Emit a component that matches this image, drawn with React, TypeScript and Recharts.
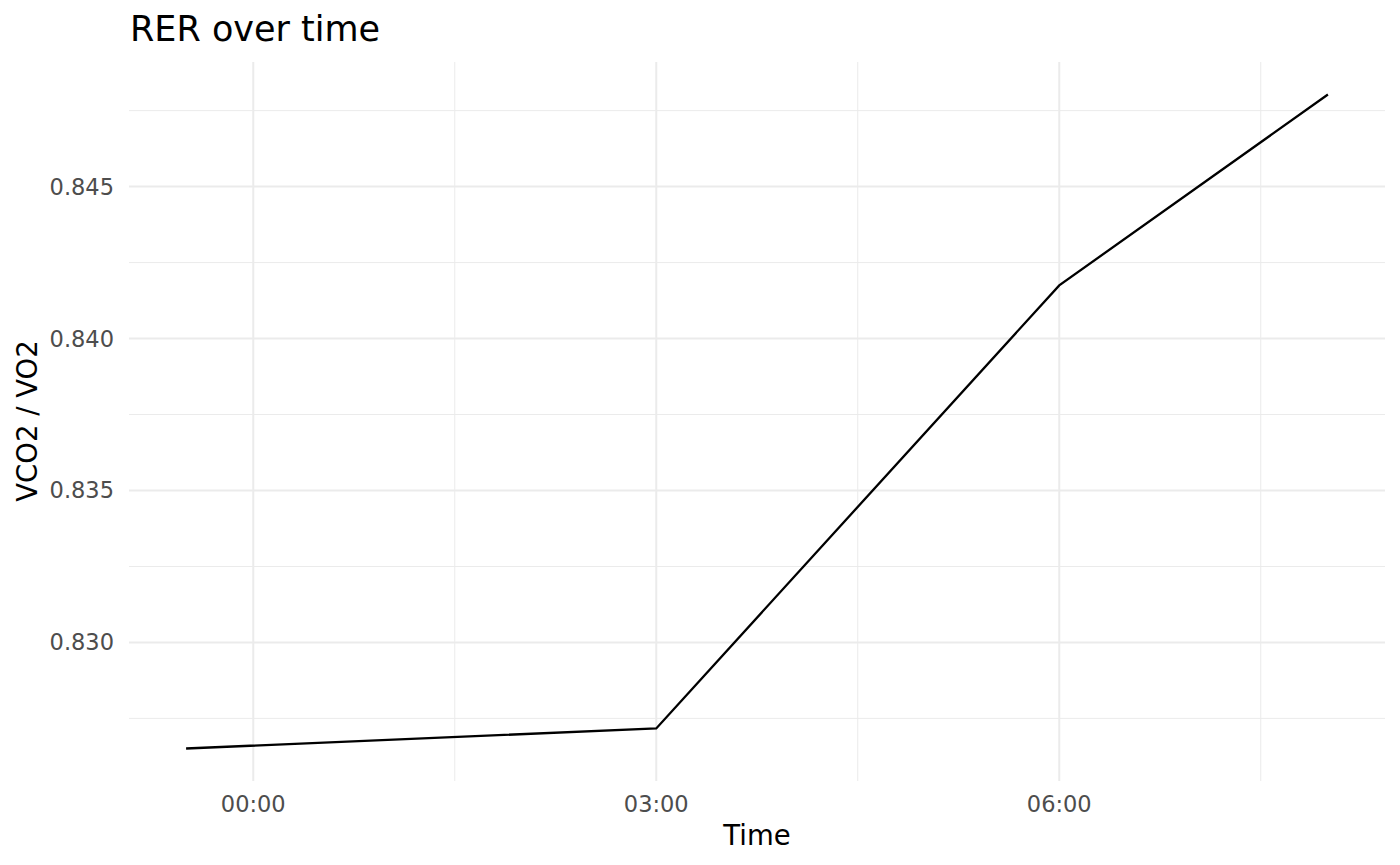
import { Line, LineChart, ReferenceLine, XAxis, YAxis } from 'recharts';

// hours relative to midnight
const TIMES = [-0.5, 3, 6, 8];
const RER = [0.82651, 0.82717, 0.84175, 0.84803];

const X_MAJOR = [0, 3, 6];
const X_MINOR = [1.5, 4.5, 7.5];
const Y_MAJOR = [0.83, 0.835, 0.84, 0.845];
const Y_MINOR = [0.8275, 0.8325, 0.8375, 0.8425, 0.8475];

const data = TIMES.map((t, i) => ({ t, rer: RER[i] }));

const FONT = '"DejaVu Sans", sans-serif';
const GRID = '#EBEBEB';

const fmtTime = (h: number) => {
  const hh = ((Math.floor(h) % 24) + 24) % 24;
  const mm = Math.round((h - Math.floor(h)) * 60);
  return `${String(hh).padStart(2, '0')}:${String(mm).padStart(2, '0')}`;
};

export default function App() {
  return (
    <div style={{ position: 'absolute', left: 0, top: 0, width: 1400, height: 865, background: '#fff', fontFamily: FONT }}>
      <div style={{ position: 'absolute', left: 130, top: 9, fontSize: 35, lineHeight: '40px', color: '#000' }}>
        RER over time
      </div>
      <div
        style={{
          position: 'absolute',
          left: 27,
          top: 421,
          transform: 'translate(-50%, -50%) rotate(-90deg)',
          fontSize: 27.5,
          whiteSpace: 'nowrap',
          color: '#000',
        }}
      >
        VCO2 / VO2
      </div>
      <div
        style={{
          position: 'absolute',
          left: 757,
          top: 817,
          transform: 'translateX(-50%)',
          fontSize: 27.5,
          lineHeight: '36px',
          color: '#000',
        }}
      >
        Time
      </div>
      <LineChart width={1400} height={865} data={data} margin={{ top: 62, right: 15, bottom: 0, left: 0 }}>
        <XAxis
          type="number"
          dataKey="t"
          domain={[-0.925, 8.425]}
          ticks={X_MAJOR}
          tickFormatter={fmtTime}
          axisLine={false}
          tickLine={false}
          tickSize={0}
          tickMargin={15}
          height={84}
          tick={{ fontSize: 22.5, fill: '#4D4D4D', fontFamily: FONT }}
        />
        <YAxis
          type="number"
          domain={[0.82544, 0.8491]}
          ticks={Y_MAJOR}
          tickFormatter={(v: number) => v.toFixed(3)}
          axisLine={false}
          tickLine={false}
          tickSize={0}
          tickMargin={15}
          width={129}
          tick={{ fontSize: 22.5, fill: '#4D4D4D', fontFamily: FONT }}
        />
        {Y_MINOR.map((v) => (
          <ReferenceLine key={`ym${v}`} y={v} stroke={GRID} strokeWidth={1} />
        ))}
        {X_MINOR.map((v) => (
          <ReferenceLine key={`xm${v}`} x={v} stroke={GRID} strokeWidth={1} />
        ))}
        {Y_MAJOR.map((v) => (
          <ReferenceLine key={`y${v}`} y={v} stroke={GRID} strokeWidth={2} />
        ))}
        {X_MAJOR.map((v) => (
          <ReferenceLine key={`x${v}`} x={v} stroke={GRID} strokeWidth={2} />
        ))}
        <Line
          type="linear"
          dataKey="rer"
          stroke="#000"
          strokeWidth={2.3}
          dot={false}
          activeDot={false}
          isAnimationActive={false}
        />
      </LineChart>
    </div>
  );
}
